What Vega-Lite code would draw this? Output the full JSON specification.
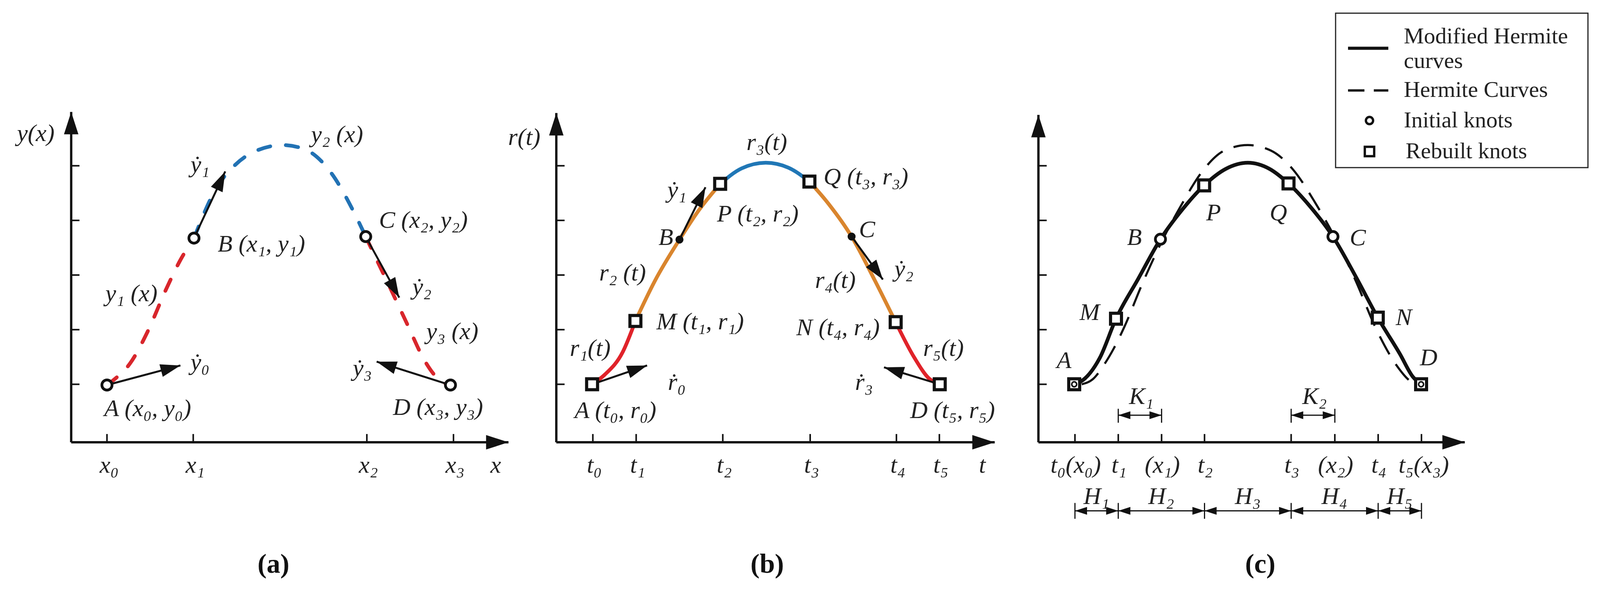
{
  "$schema": "https://vega.github.io/schema/vega-lite/v6.json",
  "width": 4096,
  "height": 1513,
  "autosize": {"type": "none"},
  "padding": 0,
  "background": "white",
  "config": {"view": {"stroke": null}},
  "datasets": {
    "segs": [
      {"kind": "axis", "x": 189, "y": 1174, "x2": 189, "y2": 297},
      {"kind": "axis", "x": 189, "y": 1174, "x2": 1350, "y2": 1174},
      {"kind": "axis", "x": 1477, "y": 1174, "x2": 1477, "y2": 300},
      {"kind": "axis", "x": 1477, "y": 1174, "x2": 2641, "y2": 1174},
      {"kind": "axis", "x": 2757, "y": 1174, "x2": 2757, "y2": 305},
      {"kind": "axis", "x": 2757, "y": 1174, "x2": 3889, "y2": 1174},
      {"kind": "tick", "x": 189, "y": 440, "x2": 211, "y2": 440},
      {"kind": "tick", "x": 189, "y": 585, "x2": 211, "y2": 585},
      {"kind": "tick", "x": 189, "y": 730, "x2": 211, "y2": 730},
      {"kind": "tick", "x": 189, "y": 875, "x2": 211, "y2": 875},
      {"kind": "tick", "x": 189, "y": 1020, "x2": 211, "y2": 1020},
      {"kind": "tick", "x": 1477, "y": 440, "x2": 1499, "y2": 440},
      {"kind": "tick", "x": 1477, "y": 585, "x2": 1499, "y2": 585},
      {"kind": "tick", "x": 1477, "y": 730, "x2": 1499, "y2": 730},
      {"kind": "tick", "x": 1477, "y": 875, "x2": 1499, "y2": 875},
      {"kind": "tick", "x": 1477, "y": 1020, "x2": 1499, "y2": 1020},
      {"kind": "tick", "x": 2757, "y": 440, "x2": 2779, "y2": 440},
      {"kind": "tick", "x": 2757, "y": 585, "x2": 2779, "y2": 585},
      {"kind": "tick", "x": 2757, "y": 730, "x2": 2779, "y2": 730},
      {"kind": "tick", "x": 2757, "y": 875, "x2": 2779, "y2": 875},
      {"kind": "tick", "x": 2757, "y": 1020, "x2": 2779, "y2": 1020},
      {"kind": "tick", "x": 284, "y": 1152, "x2": 284, "y2": 1174},
      {"kind": "tick", "x": 513, "y": 1152, "x2": 513, "y2": 1174},
      {"kind": "tick", "x": 974, "y": 1152, "x2": 974, "y2": 1174},
      {"kind": "tick", "x": 1204, "y": 1152, "x2": 1204, "y2": 1174},
      {"kind": "tick", "x": 1574, "y": 1152, "x2": 1574, "y2": 1174},
      {"kind": "tick", "x": 1689, "y": 1152, "x2": 1689, "y2": 1174},
      {"kind": "tick", "x": 1919, "y": 1152, "x2": 1919, "y2": 1174},
      {"kind": "tick", "x": 2151, "y": 1152, "x2": 2151, "y2": 1174},
      {"kind": "tick", "x": 2380, "y": 1152, "x2": 2380, "y2": 1174},
      {"kind": "tick", "x": 2494, "y": 1152, "x2": 2494, "y2": 1174},
      {"kind": "tick", "x": 2854, "y": 1152, "x2": 2854, "y2": 1174},
      {"kind": "tick", "x": 2969, "y": 1152, "x2": 2969, "y2": 1174},
      {"kind": "tick", "x": 3084, "y": 1152, "x2": 3084, "y2": 1174},
      {"kind": "tick", "x": 3198, "y": 1152, "x2": 3198, "y2": 1174},
      {"kind": "tick", "x": 3428, "y": 1152, "x2": 3428, "y2": 1174},
      {"kind": "tick", "x": 3544, "y": 1152, "x2": 3544, "y2": 1174},
      {"kind": "tick", "x": 3659, "y": 1152, "x2": 3659, "y2": 1174},
      {"kind": "tick", "x": 3774, "y": 1152, "x2": 3774, "y2": 1174},
      {"kind": "bar", "x": 2969, "y": 1085, "x2": 2969, "y2": 1122},
      {"kind": "bar", "x": 3084, "y": 1085, "x2": 3084, "y2": 1122},
      {"kind": "bar", "x": 3428, "y": 1085, "x2": 3428, "y2": 1122},
      {"kind": "bar", "x": 3544, "y": 1085, "x2": 3544, "y2": 1122},
      {"kind": "bar", "x": 2854, "y": 1335, "x2": 2854, "y2": 1377},
      {"kind": "bar", "x": 2969, "y": 1335, "x2": 2969, "y2": 1377},
      {"kind": "bar", "x": 3198, "y": 1335, "x2": 3198, "y2": 1377},
      {"kind": "bar", "x": 3428, "y": 1335, "x2": 3428, "y2": 1377},
      {"kind": "bar", "x": 3659, "y": 1335, "x2": 3659, "y2": 1377},
      {"kind": "bar", "x": 3774, "y": 1335, "x2": 3774, "y2": 1377},
      {"kind": "dim", "x": 2969, "y": 1102, "x2": 3084, "y2": 1102},
      {"kind": "dim", "x": 3428, "y": 1102, "x2": 3544, "y2": 1102},
      {"kind": "dim", "x": 2854, "y": 1356, "x2": 2969, "y2": 1356},
      {"kind": "dim", "x": 2969, "y": 1356, "x2": 3198, "y2": 1356},
      {"kind": "dim", "x": 3198, "y": 1356, "x2": 3428, "y2": 1356},
      {"kind": "dim", "x": 3428, "y": 1356, "x2": 3659, "y2": 1356},
      {"kind": "dim", "x": 3659, "y": 1356, "x2": 3774, "y2": 1356},
      {"kind": "vector", "x": 284, "y": 1022, "x2": 479, "y2": 970},
      {"kind": "vector", "x": 515, "y": 632, "x2": 598, "y2": 455},
      {"kind": "vector", "x": 971, "y": 628, "x2": 1060, "y2": 790},
      {"kind": "vector", "x": 1196, "y": 1022, "x2": 1000, "y2": 960},
      {"kind": "vector", "x": 1572, "y": 1020, "x2": 1718, "y2": 970},
      {"kind": "vector", "x": 1804, "y": 636, "x2": 1873, "y2": 497},
      {"kind": "vector", "x": 2261, "y": 628, "x2": 2344, "y2": 742},
      {"kind": "vector", "x": 2495, "y": 1020, "x2": 2347, "y2": 975},
      {"kind": "legendSolid", "x": 3579, "y": 128, "x2": 3686, "y2": 128},
      {"kind": "legendDashed", "x": 3579, "y": 240, "x2": 3686, "y2": 240}
    ],
    "heads": [
      {"kind": "axis", "x": 189, "y": 297, "dir": 0},
      {"kind": "axis", "x": 1350, "y": 1174, "dir": 90},
      {"kind": "axis", "x": 1477, "y": 300, "dir": 0},
      {"kind": "axis", "x": 2641, "y": 1174, "dir": 90},
      {"kind": "axis", "x": 2757, "y": 305, "dir": 0},
      {"kind": "axis", "x": 3889, "y": 1174, "dir": 90},
      {"kind": "vector", "x": 479, "y": 970, "dir": 75.1},
      {"kind": "vector", "x": 598, "y": 455, "dir": 25.1},
      {"kind": "vector", "x": 1060, "y": 790, "dir": 151.2},
      {"kind": "vector", "x": 1000, "y": 960, "dir": 287.6},
      {"kind": "vector", "x": 1718, "y": 970, "dir": 71.1},
      {"kind": "vector", "x": 1873, "y": 497, "dir": 26.4},
      {"kind": "vector", "x": 2344, "y": 742, "dir": 144.0},
      {"kind": "vector", "x": 2347, "y": 975, "dir": 286.9},
      {"kind": "dim", "x": 2969, "y": 1102, "dir": 270},
      {"kind": "dim", "x": 3084, "y": 1102, "dir": 90},
      {"kind": "dim", "x": 3428, "y": 1102, "dir": 270},
      {"kind": "dim", "x": 3544, "y": 1102, "dir": 90},
      {"kind": "dim", "x": 2854, "y": 1356, "dir": 270},
      {"kind": "dim", "x": 2969, "y": 1356, "dir": 90},
      {"kind": "dim", "x": 2969, "y": 1356, "dir": 270},
      {"kind": "dim", "x": 3198, "y": 1356, "dir": 90},
      {"kind": "dim", "x": 3198, "y": 1356, "dir": 270},
      {"kind": "dim", "x": 3428, "y": 1356, "dir": 90},
      {"kind": "dim", "x": 3428, "y": 1356, "dir": 270},
      {"kind": "dim", "x": 3659, "y": 1356, "dir": 90},
      {"kind": "dim", "x": 3659, "y": 1356, "dir": 270},
      {"kind": "dim", "x": 3774, "y": 1356, "dir": 90}
    ],
    "curves": [
      {"seg": "a1", "i": 0, "x": 284, "y": 1022},
      {"seg": "a1", "i": 1, "x": 306, "y": 1005},
      {"seg": "a1", "i": 2, "x": 345, "y": 965},
      {"seg": "a1", "i": 3, "x": 392, "y": 880},
      {"seg": "a1", "i": 4, "x": 440, "y": 770},
      {"seg": "a1", "i": 5, "x": 479, "y": 690},
      {"seg": "a1", "i": 6, "x": 515, "y": 632},
      {"seg": "a2", "i": 0, "x": 515, "y": 632},
      {"seg": "a2", "i": 1, "x": 574, "y": 500},
      {"seg": "a2", "i": 2, "x": 622, "y": 440},
      {"seg": "a2", "i": 3, "x": 670, "y": 405},
      {"seg": "a2", "i": 4, "x": 751, "y": 385},
      {"seg": "a2", "i": 5, "x": 813, "y": 398},
      {"seg": "a2", "i": 6, "x": 880, "y": 460},
      {"seg": "a2", "i": 7, "x": 938, "y": 560},
      {"seg": "a2", "i": 8, "x": 971, "y": 628},
      {"seg": "a3", "i": 0, "x": 971, "y": 628},
      {"seg": "a3", "i": 1, "x": 986, "y": 660},
      {"seg": "a3", "i": 2, "x": 1034, "y": 760},
      {"seg": "a3", "i": 3, "x": 1081, "y": 860},
      {"seg": "a3", "i": 4, "x": 1129, "y": 960},
      {"seg": "a3", "i": 5, "x": 1168, "y": 1010},
      {"seg": "a3", "i": 6, "x": 1196, "y": 1022},
      {"seg": "b1", "i": 0, "x": 1572, "y": 1020},
      {"seg": "b1", "i": 1, "x": 1605, "y": 995},
      {"seg": "b1", "i": 2, "x": 1653, "y": 935},
      {"seg": "b1", "i": 3, "x": 1687, "y": 852},
      {"seg": "b2", "i": 0, "x": 1687, "y": 852},
      {"seg": "b2", "i": 1, "x": 1739, "y": 745},
      {"seg": "b2", "i": 2, "x": 1804, "y": 636},
      {"seg": "b2", "i": 3, "x": 1854, "y": 560},
      {"seg": "b2", "i": 4, "x": 1912, "y": 488},
      {"seg": "b3", "i": 0, "x": 1912, "y": 488},
      {"seg": "b3", "i": 1, "x": 1969, "y": 447},
      {"seg": "b3", "i": 2, "x": 2033, "y": 432},
      {"seg": "b3", "i": 3, "x": 2093, "y": 445},
      {"seg": "b3", "i": 4, "x": 2149, "y": 482},
      {"seg": "b4", "i": 0, "x": 2149, "y": 482},
      {"seg": "b4", "i": 1, "x": 2199, "y": 540},
      {"seg": "b4", "i": 2, "x": 2261, "y": 628},
      {"seg": "b4", "i": 3, "x": 2323, "y": 745},
      {"seg": "b4", "i": 4, "x": 2378, "y": 855},
      {"seg": "b5", "i": 0, "x": 2378, "y": 855},
      {"seg": "b5", "i": 1, "x": 2428, "y": 950},
      {"seg": "b5", "i": 2, "x": 2467, "y": 1005},
      {"seg": "b5", "i": 3, "x": 2495, "y": 1020},
      {"seg": "c1", "i": 0, "x": 2854, "y": 1020},
      {"seg": "c1", "i": 1, "x": 2880, "y": 1005},
      {"seg": "c1", "i": 2, "x": 2920, "y": 950},
      {"seg": "c1", "i": 3, "x": 2963, "y": 846},
      {"seg": "c1", "i": 4, "x": 3022, "y": 740},
      {"seg": "c1", "i": 5, "x": 3081, "y": 635},
      {"seg": "c1", "i": 6, "x": 3140, "y": 555},
      {"seg": "c1", "i": 7, "x": 3197, "y": 492},
      {"seg": "c1", "i": 8, "x": 3255, "y": 448},
      {"seg": "c1", "i": 9, "x": 3313, "y": 432},
      {"seg": "c1", "i": 10, "x": 3370, "y": 448},
      {"seg": "c1", "i": 11, "x": 3421, "y": 487},
      {"seg": "c1", "i": 12, "x": 3480, "y": 550},
      {"seg": "c1", "i": 13, "x": 3539, "y": 628},
      {"seg": "c1", "i": 14, "x": 3600, "y": 735},
      {"seg": "c1", "i": 15, "x": 3658, "y": 843},
      {"seg": "c1", "i": 16, "x": 3717, "y": 940},
      {"seg": "c1", "i": 17, "x": 3751, "y": 1000},
      {"seg": "c1", "i": 18, "x": 3773, "y": 1020},
      {"seg": "c2", "i": 0, "x": 2872, "y": 1020},
      {"seg": "c2", "i": 1, "x": 2903, "y": 1005},
      {"seg": "c2", "i": 2, "x": 2930, "y": 970},
      {"seg": "c2", "i": 3, "x": 2957, "y": 925},
      {"seg": "c2", "i": 4, "x": 2985, "y": 868},
      {"seg": "c2", "i": 5, "x": 3032, "y": 755},
      {"seg": "c2", "i": 6, "x": 3085, "y": 640},
      {"seg": "c2", "i": 7, "x": 3136, "y": 545},
      {"seg": "c2", "i": 8, "x": 3192, "y": 455},
      {"seg": "c2", "i": 9, "x": 3250, "y": 400},
      {"seg": "c2", "i": 10, "x": 3313, "y": 385},
      {"seg": "c2", "i": 11, "x": 3375, "y": 400},
      {"seg": "c2", "i": 12, "x": 3433, "y": 450},
      {"seg": "c2", "i": 13, "x": 3493, "y": 540},
      {"seg": "c2", "i": 14, "x": 3543, "y": 628},
      {"seg": "c2", "i": 15, "x": 3597, "y": 740},
      {"seg": "c2", "i": 16, "x": 3657, "y": 880},
      {"seg": "c2", "i": 17, "x": 3708, "y": 970},
      {"seg": "c2", "i": 18, "x": 3745, "y": 1012},
      {"seg": "c2", "i": 19, "x": 3773, "y": 1022}
    ],
    "knots": [
      {"kind": "circle", "x": 284, "y": 1022},
      {"kind": "circle", "x": 515, "y": 632},
      {"kind": "circle", "x": 971, "y": 628},
      {"kind": "circle", "x": 1196, "y": 1022},
      {"kind": "circle", "x": 3081, "y": 635},
      {"kind": "circle", "x": 3539, "y": 628},
      {"kind": "square", "x": 1572, "y": 1020},
      {"kind": "square", "x": 1687, "y": 852},
      {"kind": "square", "x": 1912, "y": 488},
      {"kind": "square", "x": 2149, "y": 482},
      {"kind": "square", "x": 2378, "y": 855},
      {"kind": "square", "x": 2495, "y": 1020},
      {"kind": "square", "x": 2852, "y": 1020},
      {"kind": "square", "x": 2963, "y": 846},
      {"kind": "square", "x": 3197, "y": 492},
      {"kind": "square", "x": 3421, "y": 487},
      {"kind": "square", "x": 3658, "y": 843},
      {"kind": "square", "x": 3773, "y": 1020},
      {"kind": "smallcircle", "x": 2852, "y": 1020},
      {"kind": "smallcircle", "x": 3773, "y": 1020},
      {"kind": "dot", "x": 1804, "y": 636},
      {"kind": "dot", "x": 2261, "y": 628},
      {"kind": "legendCircle", "x": 3636, "y": 320},
      {"kind": "legendSquare", "x": 3636, "y": 402}
    ],
    "labels": [
      {"kind": "math", "x": 95, "y": 355, "text": "y(x)"},
      {"kind": "math", "x": 895, "y": 358, "text": "y₂ (x)"},
      {"kind": "math", "x": 531, "y": 438, "text": "ẏ₁"},
      {"kind": "math", "x": 694, "y": 648, "text": "B (x₁, y₁)"},
      {"kind": "math", "x": 1124, "y": 585, "text": "C (x₂, y₂)"},
      {"kind": "math", "x": 349, "y": 780, "text": "y₁ (x)"},
      {"kind": "math", "x": 1120, "y": 762, "text": "ẏ₂"},
      {"kind": "math", "x": 1201, "y": 880, "text": "y₃ (x)"},
      {"kind": "math", "x": 531, "y": 962, "text": "ẏ₀"},
      {"kind": "math", "x": 962, "y": 978, "text": "ẏ₃"},
      {"kind": "math", "x": 392, "y": 1085, "text": "A (x₀, y₀)"},
      {"kind": "math", "x": 1163, "y": 1082, "text": "D (x₃, y₃)"},
      {"kind": "math", "x": 1392, "y": 365, "text": "r(t)"},
      {"kind": "math", "x": 2036, "y": 378, "text": "r₃(t)"},
      {"kind": "math", "x": 2299, "y": 470, "text": "Q (t₃, r₃)"},
      {"kind": "math", "x": 1797, "y": 505, "text": "ẏ₁"},
      {"kind": "math", "x": 2012, "y": 568, "text": "P (t₂, r₂)"},
      {"kind": "math", "x": 1768, "y": 630, "text": "B"},
      {"kind": "math", "x": 2302, "y": 610, "text": "C"},
      {"kind": "math", "x": 1653, "y": 725, "text": "r₂ (t)"},
      {"kind": "math", "x": 2218, "y": 745, "text": "r₄(t)"},
      {"kind": "math", "x": 2400, "y": 715, "text": "ẏ₂"},
      {"kind": "math", "x": 1859, "y": 855, "text": "M (t₁, r₁)"},
      {"kind": "math", "x": 2225, "y": 870, "text": "N (t₄, r₄)"},
      {"kind": "math", "x": 1567, "y": 925, "text": "r₁(t)"},
      {"kind": "math", "x": 2505, "y": 925, "text": "r₅(t)"},
      {"kind": "math", "x": 1797, "y": 1015, "text": "ṙ₀"},
      {"kind": "math", "x": 2294, "y": 1015, "text": "ṙ₃"},
      {"kind": "math", "x": 1634, "y": 1090, "text": "A (t₀, r₀)"},
      {"kind": "math", "x": 2529, "y": 1090, "text": "D (t₅, r₅)"},
      {"kind": "math", "x": 2825, "y": 957, "text": "A"},
      {"kind": "math", "x": 2893, "y": 830, "text": "M"},
      {"kind": "math", "x": 3012, "y": 630, "text": "B"},
      {"kind": "math", "x": 3222, "y": 565, "text": "P"},
      {"kind": "math", "x": 3394, "y": 565, "text": "Q"},
      {"kind": "math", "x": 3605, "y": 632, "text": "C"},
      {"kind": "math", "x": 3727, "y": 843, "text": "N"},
      {"kind": "math", "x": 3793, "y": 950, "text": "D"},
      {"kind": "math", "x": 3030, "y": 1053, "text": "K₁"},
      {"kind": "math", "x": 3490, "y": 1053, "text": "K₂"},
      {"kind": "math", "x": 2911, "y": 1318, "text": "H₁"},
      {"kind": "math", "x": 3083, "y": 1318, "text": "H₂"},
      {"kind": "math", "x": 3313, "y": 1318, "text": "H₃"},
      {"kind": "math", "x": 3543, "y": 1318, "text": "H₄"},
      {"kind": "math", "x": 3716, "y": 1318, "text": "H₅"},
      {"kind": "tick", "x": 290, "y": 1235, "text": "x₀"},
      {"kind": "tick", "x": 518, "y": 1235, "text": "x₁"},
      {"kind": "tick", "x": 978, "y": 1235, "text": "x₂"},
      {"kind": "tick", "x": 1208, "y": 1235, "text": "x₃"},
      {"kind": "tick", "x": 1316, "y": 1235, "text": "x"},
      {"kind": "tick", "x": 1578, "y": 1235, "text": "t₀"},
      {"kind": "tick", "x": 1693, "y": 1235, "text": "t₁"},
      {"kind": "tick", "x": 1923, "y": 1235, "text": "t₂"},
      {"kind": "tick", "x": 2155, "y": 1235, "text": "t₃"},
      {"kind": "tick", "x": 2384, "y": 1235, "text": "t₄"},
      {"kind": "tick", "x": 2498, "y": 1235, "text": "t₅"},
      {"kind": "tick", "x": 2608, "y": 1235, "text": "t"},
      {"kind": "tick", "x": 2856, "y": 1235, "text": "t₀(x₀)"},
      {"kind": "tick", "x": 2971, "y": 1235, "text": "t₁"},
      {"kind": "tick", "x": 3086, "y": 1235, "text": "(x₁)"},
      {"kind": "tick", "x": 3200, "y": 1235, "text": "t₂"},
      {"kind": "tick", "x": 3430, "y": 1235, "text": "t₃"},
      {"kind": "tick", "x": 3546, "y": 1235, "text": "(x₂)"},
      {"kind": "tick", "x": 3661, "y": 1235, "text": "t₄"},
      {"kind": "tick", "x": 3780, "y": 1235, "text": "t₅(x₃)"},
      {"kind": "caption", "x": 726, "y": 1498, "text": "(a)"},
      {"kind": "caption", "x": 2037, "y": 1498, "text": "(b)"},
      {"kind": "caption", "x": 3346, "y": 1498, "text": "(c)"},
      {"kind": "legend", "x": 3727, "y": 97, "text": "Modified Hermite"},
      {"kind": "legend", "x": 3727, "y": 163, "text": "curves"},
      {"kind": "legend", "x": 3727, "y": 240, "text": "Hermite  Curves"},
      {"kind": "legend", "x": 3727, "y": 320, "text": "Initial knots"},
      {"kind": "legend", "x": 3732, "y": 402, "text": "Rebuilt knots"}
    ],
    "box": [
      {"x": 3546, "y": 35, "x2": 4216, "y2": 445}
    ]
  },
  "encoding": {
    "x": {"field": "x", "type": "quantitative", "scale": {"domain": [0, 4248], "nice": false, "zero": false}, "axis": null},
    "y": {"field": "y", "type": "quantitative", "scale": {"domain": [0, 1569], "nice": false, "zero": false, "reverse": true}, "axis": null}
  },
  "layer": [
    {
      "data": {"name": "box"},
      "mark": {"type": "rect", "fill": "white", "stroke": "#222", "strokeWidth": 3},
      "encoding": {"x2": {"field": "x2"}, "y2": {"field": "y2"}}
    },
    {
      "data": {"name": "curves"},
      "transform": [{"filter": "indexof(['a1','a2','a3'], datum.seg) >= 0"}],
      "mark": {"type": "line", "interpolate": "monotone", "strokeWidth": 9.5, "strokeCap": "round", "strokeDash": [32, 40]},
      "encoding": {
        "color": {"field": "seg", "type": "nominal", "scale": {"domain": ["a1", "a2", "a3", "b1", "b2", "b3", "b4", "b5", "c1", "c2"], "range": ["#d8262c", "#2272b4", "#d8262c", "#e0232a", "#d9852e", "#2077b6", "#d9852e", "#e0232a", "#111111", "#111111"]}, "legend": null},
        "order": {"field": "i", "type": "quantitative"}
      }
    },
    {
      "data": {"name": "curves"},
      "transform": [{"filter": "indexof(['b1','b2','b3','b4','b5'], datum.seg) >= 0"}],
      "mark": {"type": "line", "interpolate": "monotone", "strokeWidth": 9.5},
      "encoding": {
        "color": {"field": "seg", "type": "nominal", "legend": null},
        "order": {"field": "i", "type": "quantitative"}
      }
    },
    {
      "data": {"name": "curves"},
      "transform": [{"filter": "datum.seg == 'c1'"}],
      "mark": {"type": "line", "interpolate": "monotone", "strokeWidth": 9.5, "color": "#111"},
      "encoding": {"order": {"field": "i", "type": "quantitative"}}
    },
    {
      "data": {"name": "curves"},
      "transform": [{"filter": "datum.seg == 'c2'"}],
      "mark": {"type": "line", "interpolate": "monotone", "strokeWidth": 5.5, "color": "#111", "strokeDash": [52, 30]},
      "encoding": {"order": {"field": "i", "type": "quantitative"}}
    },
    {
      "data": {"name": "segs"},
      "transform": [{"filter": "datum.kind == 'axis'"}],
      "mark": {"type": "rule", "strokeWidth": 6, "color": "#111"},
      "encoding": {"x2": {"field": "x2"}, "y2": {"field": "y2"}}
    },
    {
      "data": {"name": "segs"},
      "transform": [{"filter": "datum.kind == 'tick'"}],
      "mark": {"type": "rule", "strokeWidth": 4, "color": "#111"},
      "encoding": {"x2": {"field": "x2"}, "y2": {"field": "y2"}}
    },
    {
      "data": {"name": "segs"},
      "transform": [{"filter": "datum.kind == 'bar' || datum.kind == 'dim'"}],
      "mark": {"type": "rule", "strokeWidth": 3, "color": "#111"},
      "encoding": {"x2": {"field": "x2"}, "y2": {"field": "y2"}}
    },
    {
      "data": {"name": "segs"},
      "transform": [{"filter": "datum.kind == 'vector'"}],
      "mark": {"type": "rule", "strokeWidth": 5, "color": "#111"},
      "encoding": {"x2": {"field": "x2"}, "y2": {"field": "y2"}}
    },
    {
      "data": {"name": "segs"},
      "transform": [{"filter": "datum.kind == 'legendSolid'"}],
      "mark": {"type": "rule", "strokeWidth": 8, "color": "#111"},
      "encoding": {"x2": {"field": "x2"}, "y2": {"field": "y2"}}
    },
    {
      "data": {"name": "segs"},
      "transform": [{"filter": "datum.kind == 'legendDashed'"}],
      "mark": {"type": "rule", "strokeWidth": 6, "color": "#111", "strokeDash": [42, 24]},
      "encoding": {"x2": {"field": "x2"}, "y2": {"field": "y2"}}
    },
    {
      "data": {"name": "heads"},
      "transform": [{"filter": "datum.kind == 'axis'"}],
      "mark": {"type": "point", "shape": "M0,0L0.5,1.55L-0.5,1.55Z", "filled": true, "color": "#111", "opacity": 1, "size": 5476, "strokeWidth": 0},
      "encoding": {"angle": {"field": "dir", "type": "quantitative", "scale": null}}
    },
    {
      "data": {"name": "heads"},
      "transform": [{"filter": "datum.kind == 'vector'"}],
      "mark": {"type": "point", "shape": "M0,0L0.5,1.55L-0.5,1.55Z", "filled": true, "color": "#111", "opacity": 1, "size": 4356, "strokeWidth": 0},
      "encoding": {"angle": {"field": "dir", "type": "quantitative", "scale": null}}
    },
    {
      "data": {"name": "heads"},
      "transform": [{"filter": "datum.kind == 'dim'"}],
      "mark": {"type": "point", "shape": "M0,0L0.5,1.55L-0.5,1.55Z", "filled": true, "color": "#111", "opacity": 1, "size": 1600, "strokeWidth": 0},
      "encoding": {"angle": {"field": "dir", "type": "quantitative", "scale": null}}
    },
    {
      "data": {"name": "knots"},
      "transform": [{"filter": "datum.kind == 'square'"}],
      "mark": {"type": "point", "shape": "square", "filled": false, "fill": "white", "stroke": "#111", "strokeWidth": 8, "opacity": 1, "size": 784}
    },
    {
      "data": {"name": "knots"},
      "transform": [{"filter": "datum.kind == 'circle'"}],
      "mark": {"type": "point", "shape": "circle", "filled": false, "fill": "white", "stroke": "#111", "strokeWidth": 7, "opacity": 1, "size": 676}
    },
    {
      "data": {"name": "knots"},
      "transform": [{"filter": "datum.kind == 'smallcircle'"}],
      "mark": {"type": "point", "shape": "circle", "filled": false, "fill": "white", "stroke": "#111", "strokeWidth": 4, "opacity": 1, "size": 160}
    },
    {
      "data": {"name": "knots"},
      "transform": [{"filter": "datum.kind == 'dot'"}],
      "mark": {"type": "point", "shape": "circle", "filled": true, "color": "#111", "opacity": 1, "size": 420}
    },
    {
      "data": {"name": "knots"},
      "transform": [{"filter": "datum.kind == 'legendCircle'"}],
      "mark": {"type": "point", "shape": "circle", "filled": false, "fill": "white", "stroke": "#111", "strokeWidth": 6, "opacity": 1, "size": 340}
    },
    {
      "data": {"name": "knots"},
      "transform": [{"filter": "datum.kind == 'legendSquare'"}],
      "mark": {"type": "point", "shape": "square", "filled": false, "fill": "white", "stroke": "#111", "strokeWidth": 6, "opacity": 1, "size": 576}
    },
    {
      "data": {"name": "labels"},
      "transform": [{"filter": "datum.kind == 'math'"}],
      "mark": {"type": "text", "font": "Liberation Serif", "fontStyle": "italic", "fontSize": 62, "align": "center", "baseline": "middle", "color": "#222"},
      "encoding": {"text": {"field": "text"}}
    },
    {
      "data": {"name": "labels"},
      "transform": [{"filter": "datum.kind == 'tick'"}],
      "mark": {"type": "text", "font": "Liberation Serif", "fontStyle": "italic", "fontSize": 62, "align": "center", "baseline": "middle", "color": "#222"},
      "encoding": {"text": {"field": "text"}}
    },
    {
      "data": {"name": "labels"},
      "transform": [{"filter": "datum.kind == 'legend'"}],
      "mark": {"type": "text", "font": "Liberation Serif", "fontSize": 58, "align": "left", "baseline": "middle", "color": "#222"},
      "encoding": {"text": {"field": "text"}}
    },
    {
      "data": {"name": "labels"},
      "transform": [{"filter": "datum.kind == 'caption'"}],
      "mark": {"type": "text", "font": "Liberation Serif", "fontWeight": "bold", "fontSize": 70, "align": "center", "baseline": "middle", "color": "#111"},
      "encoding": {"text": {"field": "text"}}
    }
  ]
}
